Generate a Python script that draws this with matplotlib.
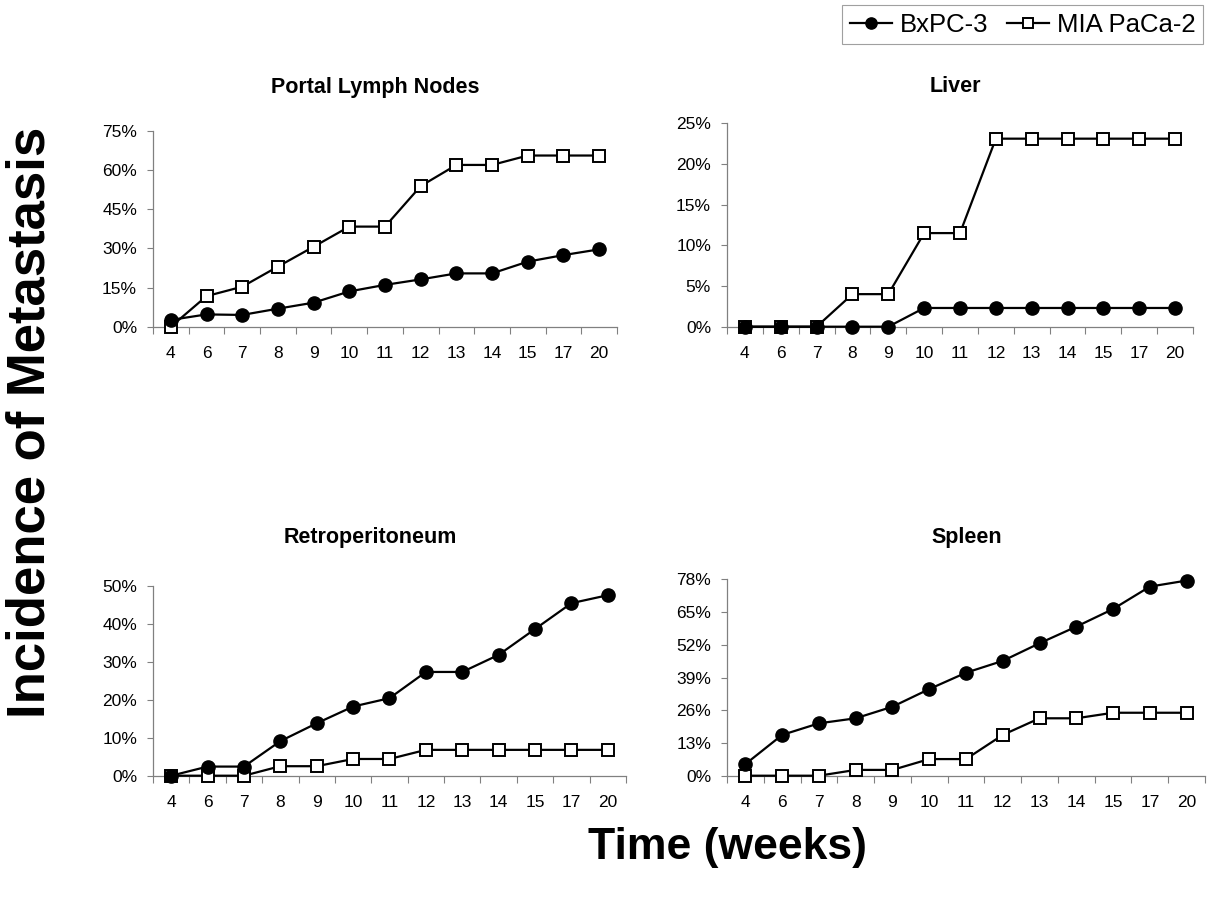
import matplotlib
matplotlib.use("Agg")
import matplotlib.pyplot as plt
from matplotlib.ticker import FixedLocator, FuncFormatter
import numpy as np

plt.rcParams['font.family'] = ['Liberation Sans', 'DejaVu Sans']

weeks = ["4", "6", "7", "8", "9", "10", "11", "12", "13", "14", "15", "17", "20"]

portal_bx = [2.6, 4.7, 4.5, 6.9, 9.2, 13.5, 16.0, 18.1, 20.4, 20.4, 24.9, 27.4, 29.6]
portal_mia = [0.0, 11.7, 15.3, 23.0, 30.6, 38.3, 38.3, 53.8, 61.9, 61.9, 65.5, 65.5, 65.5]

liver_bx = [0.0, 0.0, 0.0, 0.0, 0.0, 2.3, 2.3, 2.3, 2.3, 2.3, 2.3, 2.3, 2.3]
liver_mia = [0.0, 0.0, 0.0, 4.0, 4.0, 11.5, 11.5, 23.1, 23.1, 23.1, 23.1, 23.1, 23.1]

retro_bx = [0.0, 2.4, 2.4, 9.1, 13.8, 18.2, 20.4, 27.3, 27.3, 31.8, 38.6, 45.4, 47.5]
retro_mia = [0.0, 0.0, 0.0, 2.5, 2.5, 4.4, 4.4, 6.8, 6.8, 6.8, 6.8, 6.8, 6.8]

spleen_bx = [4.6, 16.2, 20.8, 22.8, 27.4, 34.4, 40.9, 45.6, 52.6, 59.2, 66.2, 75.1, 77.5]
spleen_mia = [0.0, 0.0, 0.0, 2.3, 2.3, 6.6, 6.6, 16.2, 22.8, 22.8, 25.0, 25.0, 25.0]

titles = ["Portal Lymph Nodes", "Liver", "Retroperitoneum", "Spleen"]
yticks_list = [[0, 15, 30, 45, 60, 75], [0, 5, 10, 15, 20, 25],
               [0, 10, 20, 30, 40, 50], [0, 13, 26, 39, 52, 65, 78]]
series = [(portal_bx, portal_mia), (liver_bx, liver_mia),
          (retro_bx, retro_mia), (spleen_bx, spleen_mia)]

W, H = 1208, 906
fig = plt.figure(figsize=(W / 100, H / 100), dpi=100)

# axes boxes in pixels: left, right, top, bottom
boxes = [(153, 617, 130.7, 326.7), (727, 1193, 123.2, 326.7),
         (153, 626, 585.7, 775.7), (727, 1205, 579.3, 775.7)]
title_pos = [(375, 87), (955, 87), (370, 537), (967, 537)]

spine_col = "#808080"
x = np.arange(len(weeks))
handles = None
for i, ((l, r, t, b), title, yt, (bx, mia)) in enumerate(zip(boxes, titles, yticks_list, series)):
    ax = fig.add_axes([l / W, 1 - b / H, (r - l) / W, (b - t) / H])
    h2, = ax.plot(x, mia, color="black", lw=1.6, marker="s", ms=8.5, mfc="white",
                  mec="black", mew=1.4, label="MIA PaCa-2", clip_on=False, zorder=3)
    h1, = ax.plot(x, bx, color="black", lw=1.6, marker="o", ms=9.5, mfc="black",
                  mec="black", label="BxPC-3", clip_on=False, zorder=4)
    if handles is None:
        handles = [h1, h2]
    ax.set_xlim(-0.5, len(weeks) - 0.5)
    ax.set_ylim(yt[0], yt[-1])
    ax.set_xticks(x)
    ax.set_xticklabels(weeks)
    ax.xaxis.set_minor_locator(FixedLocator(np.arange(-0.5, len(weeks), 1.0)))
    ax.tick_params(axis="x", which="major", length=0, pad=14, labelsize=12.5)
    ax.tick_params(axis="x", which="minor", length=5, width=0.8, color=spine_col, direction="out")
    ax.set_yticks(yt)
    ax.yaxis.set_major_formatter(FuncFormatter(lambda v, p: f"{int(round(v))}%"))
    ax.tick_params(axis="y", length=4.5, width=0.8, color=spine_col, pad=7, labelsize=12.5)
    for s in ["top", "right"]:
        ax.spines[s].set_visible(False)
    for s in ["left", "bottom"]:
        ax.spines[s].set_color(spine_col)
        ax.spines[s].set_linewidth(0.9)
    tx, ty = title_pos[i]
    fig.text(tx / W, 1 - ty / H, title, ha="center", va="center",
             fontsize=15.5, fontweight="bold")

fig.text(31 / W, 1 - 422 / H, "Incidence of Metastasis", rotation=90,
         ha="center", va="center", fontsize=38, fontweight="bold")
fig.text(727 / W, 1 - 848 / H, "Time (weeks)", ha="center", va="center",
         fontsize=32, fontweight="bold")

leg = fig.legend(handles=handles, loc="upper right",
                 bbox_to_anchor=(1203 / W, 1 - 5 / H), ncol=2, fontsize=18.5,
                 frameon=True, fancybox=False, edgecolor="#888888",
                 handlelength=1.65, handletextpad=0.3, columnspacing=0.7,
                 borderpad=0.3, borderaxespad=0, markerscale=0.85)
leg.get_frame().set_linewidth(0.8)

fig.savefig("out.png", dpi=100, facecolor="white")
